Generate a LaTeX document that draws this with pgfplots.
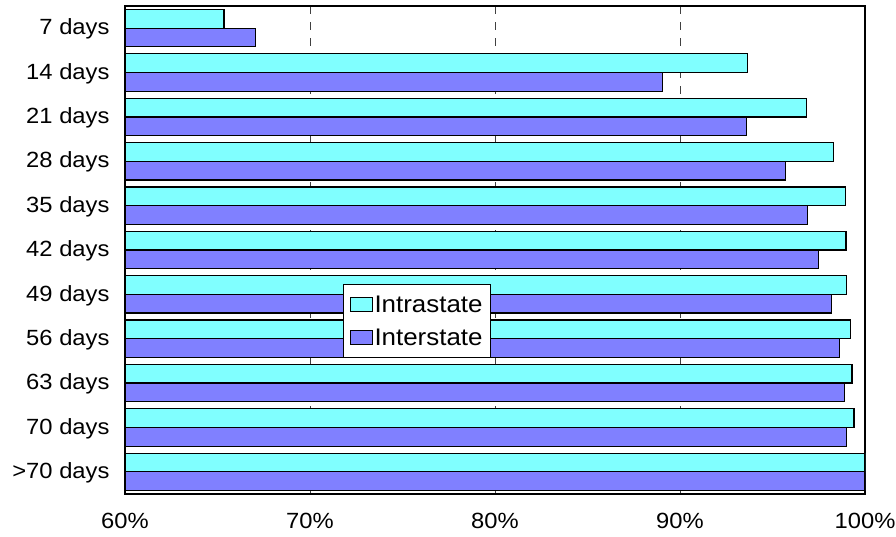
\documentclass[border=0pt]{standalone}
\usepackage{fontspec}
\setmainfont{Liberation Sans}
\newfontfamily\labelfont{Liberation Sans}[FakeStretch=1.08]
\usepackage{pgfplots}
\usepackage{pgfplotstable}
\pgfplotsset{compat=1.18}

\definecolor{intracol}{HTML}{80FFFF}
\definecolor{intercol}{HTML}{8080FF}

% share of cases closed within each period (%)
\pgfplotstableread{
cat intra inter
0  65.35 67.04
1  93.66 89.06
2  96.84 93.60
3  98.30 95.70
4  98.95 96.90
5  98.97 97.50
6  99.00 98.20
7  99.20 98.60
8  99.30 98.90
9  99.40 99.00
10 100.00 100.00
}\closedtable

\begin{document}
\begin{tikzpicture}
\begin{axis}[
  at={(125pt,42pt)}, anchor=south west,
  scale only axis, width=740pt, height=488pt,
  xbar=0pt, bar width=18.7pt,
  xmin=60, xmax=100, ymin=-0.5, ymax=10.5, y dir=reverse,
  xtick={60,70,80,90,100},
  xticklabels={60\%,70\%,80\%,90\%,100\%},
  ytick={0,...,10},
  yticklabels={7 days,14 days,21 days,28 days,35 days,42 days,49 days,56 days,63 days,70 days,>70 days},
  major tick length=0pt,
  xmajorgrids,
  grid style={dash pattern=on 8pt off 8pt, black!75, line width=0.9pt},
  axis line style={black, line width=1.3pt},
  tick label style={font=\labelfont\fontsize{22}{26}\selectfont},
  xticklabel style={yshift=-16pt},
  yticklabel style={xshift=-12pt, yshift=-1pt},
  legend style={at={(0.2946,0.4303)}, anchor=north west, draw=black, line width=1pt,
    font=\labelfont\fontsize{24}{28}\selectfont, inner xsep=6pt, inner ysep=9pt,
    row sep=11pt, cells={anchor=west}},
  legend image code/.code={\draw[#1,line width=1pt] (0pt,-7pt) rectangle (22pt,7pt);},
]
\addplot[fill=intracol, draw=black, line width=1.2pt, bar shift=9.35pt] table[x=intra, y=cat] {\closedtable};
\addplot[fill=intercol, draw=black, line width=1.2pt, bar shift=-9.35pt] table[x=inter, y=cat] {\closedtable};
\legend{Intrastate, Interstate}
\end{axis}
\pgfresetboundingbox
\path[use as bounding box] (0,0) rectangle (896pt,536pt);
\end{tikzpicture}
\end{document}
